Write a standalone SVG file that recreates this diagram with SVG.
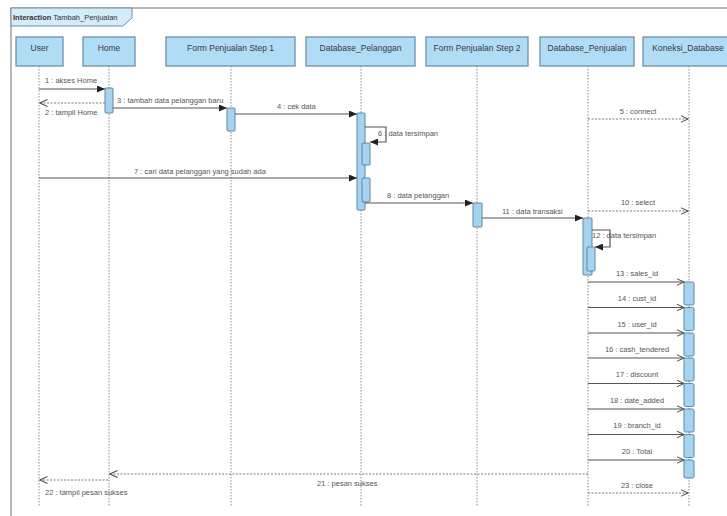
<svg xmlns="http://www.w3.org/2000/svg" width="727" height="516" viewBox="0 0 727 516">
<style>
.hd{fill:#b0dcf6;stroke:#6f8fa8;stroke-width:1.3}
.ht{font-family:"Liberation Sans",Arial,sans-serif;font-size:8.5px;fill:#3a3a3a;text-anchor:middle}
.ll{stroke:#8a8a8a;stroke-width:1;stroke-dasharray:1.5 1.5;fill:none}
.act{fill:#a6d3ef;stroke:#5f86a3;stroke-width:1}
.msg{stroke:#555;stroke-width:1.2;fill:none}
.ret{stroke:#7a7a7a;stroke-width:1;stroke-dasharray:2 1.5;fill:none}
.lbl{font-family:"Liberation Sans",Arial,sans-serif;font-size:7.5px;fill:#555}
.mid{text-anchor:middle}
</style>
<defs>
<marker id="fa" markerUnits="userSpaceOnUse" markerWidth="9" markerHeight="7" refX="8" refY="3.5" orient="auto"><path d="M0,0 L8,3.5 L0,7 z" fill="#222"/></marker>
<marker id="oa" markerUnits="userSpaceOnUse" markerWidth="9" markerHeight="8" refX="7.5" refY="4" orient="auto"><path d="M0,0.5 L7.5,4 L0,7.5" fill="none" stroke="#555" stroke-width="1.1"/></marker>
</defs>
<rect x="0" y="0" width="727" height="516" fill="#fff"/>
<g id="frame">
<rect x="11" y="8" width="730" height="520" fill="none" stroke="#a0a0a0" stroke-width="1.5"/>
<path d="M11,8 H132 V18 L123,26 H11 Z" fill="#d4ebf9" stroke="#6f8fa8" stroke-width="1"/>
<text x="13" y="20" font-family="Liberation Sans, Arial, sans-serif" font-size="7.5" fill="#333"><tspan font-weight="bold">Interaction</tspan> Tambah_Penjualan</text>
</g>
<g id="user">
<line class="ll" x1="39" y1="66" x2="39" y2="506"/>
<rect class="hd" x="16" y="37" width="47" height="29"/>
<text class="ht" x="39.5" y="51">User</text>
</g>
<g id="home">
<line class="ll" x1="109" y1="66" x2="109" y2="506"/>
<rect class="hd" x="83" y="37" width="52" height="29"/>
<text class="ht" x="109" y="51">Home</text>
<rect class="act" x="105" y="88" width="8" height="25" rx="1"/>
</g>
<g id="form1">
<line class="ll" x1="231" y1="66" x2="231" y2="506"/>
<rect class="hd" x="166" y="37" width="129" height="29"/>
<text class="ht" x="230.5" y="51">Form Penjualan Step 1</text>
<rect class="act" x="227" y="108" width="8" height="23" rx="1"/>
</g>
<g id="db_pelanggan">
<line class="ll" x1="361" y1="66" x2="361" y2="506"/>
<rect class="hd" x="306" y="37" width="109" height="29"/>
<text class="ht" x="360.5" y="51">Database_Pelanggan</text>
<rect class="act" x="357" y="113" width="8" height="97" rx="1"/>
<rect class="act" x="362" y="143" width="8" height="22" rx="1"/>
<rect class="act" x="362" y="178" width="8" height="24" rx="1"/>
</g>
<g id="form2">
<line class="ll" x1="477" y1="66" x2="477" y2="506"/>
<rect class="hd" x="426" y="37" width="102" height="29"/>
<text class="ht" x="477" y="51">Form Penjualan Step 2</text>
<rect class="act" x="473" y="203" width="9" height="24" rx="1"/>
</g>
<g id="db_penjualan">
<line class="ll" x1="588" y1="66" x2="588" y2="506"/>
<rect class="hd" x="540" y="37" width="94" height="29"/>
<text class="ht" x="587" y="51">Database_Penjualan</text>
<rect class="act" x="583" y="218" width="9" height="57" rx="1"/>
<rect class="act" x="587" y="247" width="8" height="24" rx="1"/>
</g>
<g id="koneksi">
<line class="ll" x1="689" y1="66" x2="689" y2="506"/>
<rect class="hd" x="643" y="37" width="92" height="29"/>
<text class="ht" x="688" y="51">Koneksi_Database</text>
<rect class="act" x="684" y="282" width="10" height="23" rx="1.5"/>
<rect class="act" x="684" y="307.5" width="10" height="23" rx="1.5"/>
<rect class="act" x="684" y="333" width="10" height="23" rx="1.5"/>
<rect class="act" x="684" y="358" width="10" height="23" rx="1.5"/>
<rect class="act" x="684" y="383.5" width="10" height="23" rx="1.5"/>
<rect class="act" x="684" y="409" width="10" height="23" rx="1.5"/>
<rect class="act" x="684" y="434.5" width="10" height="23" rx="1.5"/>
<rect class="act" x="684" y="460" width="10" height="18" rx="1.5"/>
</g>
<g id="connectors">
<line class="msg" x1="39" y1="89" x2="105" y2="89" marker-end="url(#fa)"/>
<text class="lbl" x="45" y="83">1 : akses Home</text>
<line class="ret" x1="105" y1="103" x2="40" y2="103" marker-end="url(#oa)"/>
<text class="lbl" x="45" y="115">2 : tampil Home</text>
<line class="msg" x1="113" y1="108" x2="227" y2="108" marker-end="url(#fa)"/>
<text class="lbl" x="117" y="103">3 : tambah data pelanggan baru</text>
<line class="msg" x1="235" y1="114" x2="357" y2="114" marker-end="url(#fa)"/>
<text class="lbl" x="277" y="109">4 : cek data</text>
<line class="ret" x1="588" y1="119" x2="688" y2="119" marker-end="url(#oa)"/>
<text class="lbl mid" x="638" y="113.5">5 : connect</text>
<path class="msg" d="M365,127 H386 V142 H370" marker-end="url(#fa)"/>
<text class="lbl" x="378" y="136">6 : data tersimpan</text>
<line class="msg" x1="39" y1="178" x2="357" y2="178" marker-end="url(#fa)"/>
<text class="lbl mid" x="200" y="173.5">7 : cari data pelanggan yang sudah ada</text>
<line class="msg" x1="365" y1="203" x2="473" y2="203" marker-end="url(#fa)"/>
<text class="lbl" x="387" y="198">8 : data pelanggan</text>
<line class="ret" x1="588" y1="211" x2="688" y2="211" marker-end="url(#oa)"/>
<text class="lbl mid" x="638" y="204.5">10 : select</text>
<line class="msg" x1="482" y1="218" x2="583" y2="218" marker-end="url(#fa)"/>
<text class="lbl" x="502" y="213.5">11 : data transaksi</text>
<path class="msg" d="M592,230 H610 V247 H595" marker-end="url(#fa)"/>
<text class="lbl" x="592" y="237.5">12 : data tersimpan</text>
<line class="msg" x1="588" y1="282" x2="684" y2="282" marker-end="url(#oa)"/>
<text class="lbl mid" x="637" y="275.5">13 : sales_id</text>
<line class="msg" x1="588" y1="307.5" x2="684" y2="307.5" marker-end="url(#oa)"/>
<text class="lbl mid" x="637" y="301">14 : cust_id</text>
<line class="msg" x1="588" y1="333" x2="684" y2="333" marker-end="url(#oa)"/>
<text class="lbl mid" x="637" y="326.5">15 : user_id</text>
<line class="msg" x1="588" y1="358" x2="684" y2="358" marker-end="url(#oa)"/>
<text class="lbl mid" x="637" y="351.5">16 : cash_tendered</text>
<line class="msg" x1="588" y1="383.5" x2="684" y2="383.5" marker-end="url(#oa)"/>
<text class="lbl mid" x="637" y="377">17 : discount</text>
<line class="msg" x1="588" y1="409" x2="684" y2="409" marker-end="url(#oa)"/>
<text class="lbl mid" x="637" y="402.5">18 : date_added</text>
<line class="msg" x1="588" y1="434.5" x2="684" y2="434.5" marker-end="url(#oa)"/>
<text class="lbl mid" x="637" y="428">19 : branch_id</text>
<line class="msg" x1="588" y1="460" x2="684" y2="460" marker-end="url(#oa)"/>
<text class="lbl mid" x="637" y="453.5">20 : Total</text>
<line class="ret" x1="588" y1="474" x2="110" y2="474" marker-end="url(#oa)"/>
<text class="lbl" x="317" y="486">21 : pesan sukses</text>
<line class="ret" x1="108" y1="480" x2="40" y2="480" marker-end="url(#oa)"/>
<text class="lbl" x="45" y="495">22 : tampil pesan sukses</text>
<line class="ret" x1="588" y1="493" x2="688" y2="493" marker-end="url(#oa)"/>
<text class="lbl mid" x="637" y="488">23 : close</text>
</g>
</svg>
